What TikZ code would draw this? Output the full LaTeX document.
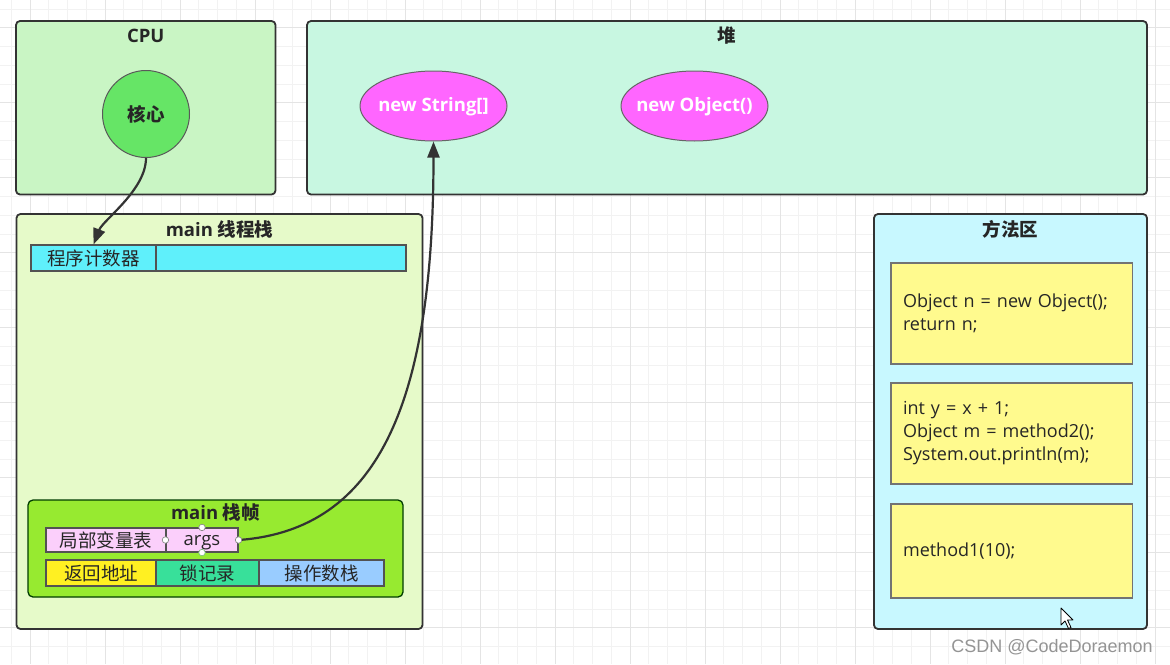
\documentclass[tikz,border=0pt]{standalone}
\usepackage{fontspec}
\setmainfont{Open Sans}
\newfontfamily\cjk{Noto Sans CJK SC}
\newfontfamily\wmfont{Liberation Sans}
\usetikzlibrary{arrows.meta,shapes.geometric}
\definecolor{edge}{HTML}{333333}
\definecolor{txt}{HTML}{262626}
\definecolor{cpufill}{HTML}{C9F5C4}
\definecolor{heapfill}{HTML}{C8F7E1}
\definecolor{stackfill}{HTML}{E6FAC9}
\definecolor{methfill}{HTML}{C8F8FF}
\definecolor{pcfill}{HTML}{5FF0FB}
\definecolor{framefill}{HTML}{97EA30}
\definecolor{pinkfill}{HTML}{FBCFFB}
\definecolor{yelfill}{HTML}{FFF022}
\definecolor{lockfill}{HTML}{38E09A}
\definecolor{bluefill}{HTML}{99CCFF}
\definecolor{codefill}{HTML}{FFFA8E}
\definecolor{magfill}{HTML}{FF66FF}
\definecolor{corefill}{HTML}{66E566}
\definecolor{gridminor}{HTML}{F2F2F2}
\definecolor{gridmajor}{HTML}{E4E4E4}
\tikzset{
  region/.style={draw=edge, line width=1.8pt, rounded corners=4pt, inner sep=0pt},
  cell/.style={draw=edge!85, line width=1.1pt, inner sep=0pt, text=txt},
  codebox/.style={draw=black!55, line width=1.1pt, fill=codefill, inner xsep=12pt, inner ysep=0pt,
     align=left, text width=217.5pt, minimum width=241.5pt, text=txt, font=\fontsize{18}{23}\selectfont},
  ttl/.style={font=\fontsize{18.5}{22}\selectfont\bfseries, text=txt, inner sep=0pt},
  obj/.style={ellipse, draw=black!60, line width=1pt, fill=magfill, text=white,
     font=\fontsize{18.5}{22}\selectfont\bfseries, minimum width=147pt, minimum height=70pt, inner sep=0pt,
     text height=11pt, text depth=0pt},
  handle/.style={circle, draw=black!45, fill=white, line width=0.7pt, minimum size=6.5pt, inner sep=0pt},
  conn/.style={draw=edge, line width=2.2pt, -{Triangle[length=16pt,width=12pt]}},
}
\begin{document}
\begin{tikzpicture}[x=1pt,y=-1pt, font=\fontsize{18.5}{23}\selectfont]
\useasboundingbox (0,0) rectangle (1170,664);
\fill[white] (0,0) rectangle (1170,664);
% grid
\foreach \i in {0,...,62} \draw[gridminor, line width=0.8pt] ({11.25+18.75*\i},0) -- ({11.25+18.75*\i},664);
\foreach \i in {0,...,35} \draw[gridminor, line width=0.8pt] (0,{8.95+18.75*\i}) -- (1170,{8.95+18.75*\i});
\foreach \i in {0,...,15} \draw[gridmajor, line width=0.8pt] ({30+75*\i},0) -- ({30+75*\i},664);
\foreach \i in {0,...,8} \draw[gridmajor, line width=0.8pt] (0,{27.7+75*\i}) -- (1170,{27.7+75*\i});

% regions
\node[region, fill=cpufill, minimum width=259.5pt, minimum height=173.5pt] (cpu) at (145.75,107.75) {};
\node[ttl] (cpuT) at (145.75,36) {CPU};
\node[region, fill=heapfill, minimum width=840pt, minimum height=173.5pt] (heap) at (727,107.75) {};
\node[ttl] (heapT) at (727,36) {\cjk 堆};
\node[region, fill=stackfill, minimum width=406pt, minimum height=415pt] (stack) at (219.5,421.5) {};
\node[ttl] (stackT) at (219.5,229) {main {\cjk 线程栈}};
\node[region, fill=methfill, minimum width=273pt, minimum height=415pt] (meth) at (1010.5,421.5) {};
\node[ttl] (methT) at (1010.5,229) {\cjk 方法区};

% core
\node[circle, draw=black!65, line width=1pt, fill=corefill, minimum size=87pt, inner sep=0pt,
      font=\fontsize{18.5}{22}\selectfont\bfseries\cjk, text=txt] (core) at (146,114) {核心};

% heap objects
\node[obj] (str) at (433.5,106) {\makebox[0pt]{new String[]}};
\node[obj] (objn) at (694.5,106) {\makebox[0pt]{new Object()}};

% program counter
\node[cell, fill=pcfill, minimum width=125pt, minimum height=26pt, font=\fontsize{18.5}{22}\selectfont\cjk] (pcl) at (93.5,258) {程序计数器};
\node[cell, fill=pcfill, minimum width=250pt, minimum height=26pt] (pcr) at (281,258) {};

% stack frame
\node[draw=black!60!green!60!black, line width=1.3pt, rounded corners=5pt, fill=framefill,
      minimum width=375pt, minimum height=97pt, inner sep=0pt] (frame) at (215.5,548.5) {};
\node[ttl] (frameT) at (215.5,512) {main {\cjk 栈帧}};
\node[cell, fill=pinkfill, minimum width=120pt, minimum height=24pt, font=\fontsize{18.5}{22}\selectfont\cjk] (lvt) at (106,540) {局部变量表};
\node[cell, fill=pinkfill, minimum width=72pt, minimum height=24pt, text height=12pt, text depth=2pt] (args) at (202,540) {args};
\node[cell, fill=yelfill, minimum width=110pt, minimum height=26pt, font=\fontsize{18.5}{22}\selectfont\cjk] (ret) at (101,573) {返回地址};
\node[cell, fill=lockfill, minimum width=103pt, minimum height=26pt, font=\fontsize{18.5}{22}\selectfont\cjk] (lock) at (207.5,573) {锁记录};
\node[cell, fill=bluefill, minimum width=125pt, minimum height=26pt, font=\fontsize{18.5}{22}\selectfont\cjk] (ops) at (321.5,573) {操作数栈};

% code boxes
\node[codebox, minimum height=101pt] (code1) at (1011.75,313.5) {Object n = new Object();\\return n;};
\node[codebox, minimum height=101pt] (code2) at (1011.75,433.5) {int y = x + 1;\\Object m = method2();\\System.out.println(m);};
\node[codebox, minimum height=94pt] (code3) at (1011.75,551) {method1(10);};

% connectors
\draw[conn] (core.south) .. controls (146,190) and (103,220) .. (pcl.north);
\draw[conn] (args.east) .. controls (380,530) and (433.5,400) .. (str.south);

% selection handles on args
\node[handle] (hN) at (args.north) {};
\node[handle] (hW) at (args.west) {};
\node[handle] (hE) at (args.east) {};
\node[handle, draw=green!50!black!50] (hS) at (args.south) {};

% mouse cursor
\draw[black, fill=white, line width=0.8pt, line join=round]
  (1061,608) -- (1061,625) -- (1065,621) -- (1068.5,628.5) -- (1071,627.5) -- (1067.5,620) -- (1073,620) -- cycle;

% watermark
\node[font=\fontsize{18}{20}\selectfont\wmfont, text=black!42, inner sep=0pt] (wm) at (1052,647) {CSDN @CodeDoraemon};
\end{tikzpicture}
\end{document}
